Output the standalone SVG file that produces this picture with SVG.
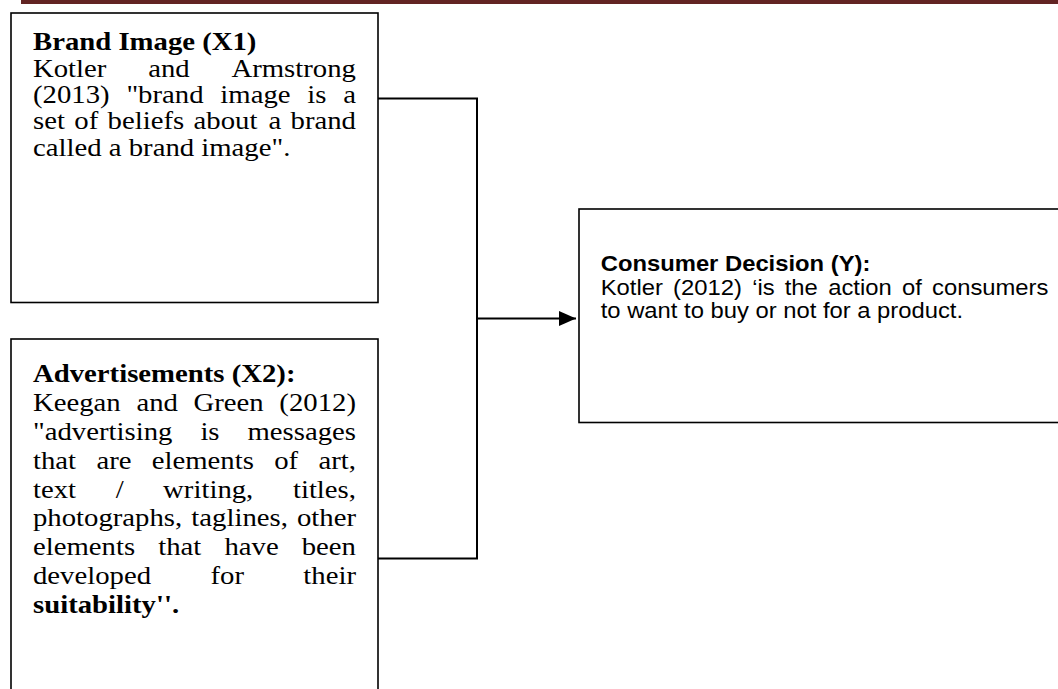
<svg xmlns="http://www.w3.org/2000/svg" width="1058" height="689" viewBox="0 0 1058 689">
<defs>
<style>
.box{fill:#ffffff;stroke:#000000;stroke-width:1.6}
.conn{fill:none;stroke:#000000;stroke-width:2}
.t{font-family:"Liberation Serif","Times New Roman",serif;font-size:26px;fill:#000000}
.tb{font-family:"Liberation Serif","Times New Roman",serif;font-size:26px;font-weight:bold;fill:#000000}
.s{font-family:"Liberation Sans",Arial,sans-serif;font-size:22px;fill:#000000}
.sb{font-family:"Liberation Sans",Arial,sans-serif;font-size:22px;font-weight:bold;fill:#000000}
</style>
<marker id="arrow" markerUnits="userSpaceOnUse" markerWidth="18" markerHeight="16" refX="17" refY="7.5" orient="auto">
<path d="M0,0 L17,7.5 L0,15 Z" fill="#000000"/>
</marker>
</defs>
<rect width="1058" height="689" fill="#ffffff"/>
<g id="header-bar">
<rect x="21" y="0" width="1037" height="4" fill="#622423"/>
</g>
<g id="connectors">
<path class="conn" d="M378,98.5 H477 V558.5 H378"/>
<line class="conn" x1="477" y1="318.5" x2="576" y2="318.5" marker-end="url(#arrow)"/>
</g>
<g id="node-brand-image">
<rect class="box" x="11" y="13" width="367" height="289.5"/>
<g transform="scale(1.1058,1)">
<text class="tb" x="29.85" y="50.5">Brand Image (X1)</text>
<text class="t" y="76.8"><tspan x="29.85">Kotler</tspan><tspan x="134.01">and</tspan><tspan x="209.29">Armstrong</tspan></text>
<text class="t" y="103.1"><tspan x="29.85">(2013)</tspan><tspan x="114.3">"brand</tspan><tspan x="199.25">image</tspan><tspan x="277.93">is</tspan><tspan x="310.41">a</tspan></text>
<text class="t" y="129.4"><tspan x="29.85">set</tspan><tspan x="67.18">of</tspan><tspan x="97.29">beliefs</tspan><tspan x="175.07">about</tspan><tspan x="242.75">a</tspan><tspan x="262.75">brand</tspan></text>
<text class="t" x="29.85" y="155.7">called a brand image".</text>
</g>
</g>
<g id="node-advertisements">
<rect class="box" x="11" y="339" width="367" height="380"/>
<g transform="scale(1.1058,1)">
<text class="tb" x="29.85" y="382">Advertisements (X2):</text>
<text class="t" y="410.9"><tspan x="29.85">Keegan</tspan><tspan x="123.35">and</tspan><tspan x="175">Green</tspan><tspan x="252.63">(2012)</tspan></text>
<text class="t" y="439.8"><tspan x="29.85">"advertising</tspan><tspan x="181.21">is</tspan><tspan x="223.76">messages</tspan></text>
<text class="t" y="468.7"><tspan x="29.85">that</tspan><tspan x="87.18">are</tspan><tspan x="137.26">elements</tspan><tspan x="248.03">of</tspan><tspan x="288.03">art,</tspan></text>
<text class="t" y="497.6"><tspan x="29.85">text</tspan><tspan x="104.57">/</tspan><tspan x="147.53">writing,</tspan><tspan x="264.89">titles,</tspan></text>
<text class="t" y="526.5"><tspan x="29.85">photographs,</tspan><tspan x="173.01">taglines,</tspan><tspan x="268.53">other</tspan></text>
<text class="t" y="555.4"><tspan x="29.85">elements</tspan><tspan x="143.11">that</tspan><tspan x="202.95">have</tspan><tspan x="272.86">been</tspan></text>
<text class="t" y="584.3"><tspan x="29.85">developed</tspan><tspan x="190.34">for</tspan><tspan x="274.3">their</tspan></text>
<text class="tb" x="29.85" y="613.2">suitability''.</text>
</g>
</g>
<g id="node-consumer-decision">
<rect class="box" x="579" y="209" width="500" height="213.5"/>
<g transform="scale(1.082,1)">
<text class="sb" x="555.2" y="271">Consumer Decision (Y):</text>
<text class="s" y="295"><tspan x="555.2">Kotler</tspan><tspan x="622.1">(2012)</tspan><tspan x="695.2">‘is</tspan><tspan x="725.3">the</tspan><tspan x="765.4">action</tspan><tspan x="833.6">of</tspan><tspan x="861.4">consumers</tspan></text>
<text class="s" x="555.2" y="318">to want to buy or not for a product.</text>
</g>
</g>
</svg>
